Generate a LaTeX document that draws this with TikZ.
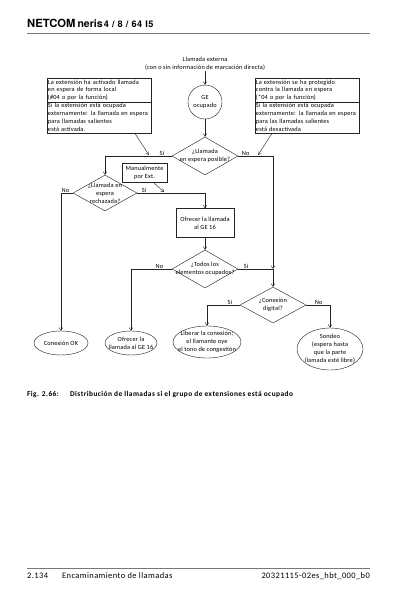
\documentclass[tikz,border=0pt]{standalone}
\usepackage{fontspec}
\setmainfont{Carlito}
\newfontfamily\headfont{TeX Gyre Heros}
\usetikzlibrary{positioning, arrows.meta, shapes.geometric, shapes.multipart}
\definecolor{linecolor}{RGB}{35, 35, 35}
\definecolor{rulecolor}{RGB}{120, 120, 120}
\newcommand{\diagfont}{\fontsize{9}{11.3}\selectfont\addfontfeatures{LetterSpace=2.5}}

\begin{document}
\begin{tikzpicture}[
    x=0.5mm, y=-0.5mm,
    txt/.style={font=\diagfont, align=center, inner sep=1pt},
    decision/.style={diamond, draw=linecolor, line width=0.6pt, inner sep=0pt, minimum width=33mm, minimum height=19mm},
    process/.style={rectangle, draw=linecolor, line width=0.8pt, txt},
    terminal/.style={ellipse, draw=linecolor, line width=0.6pt, inner sep=0pt},
    note/.style={rectangle split, rectangle split parts=2, draw=linecolor, line width=0.8pt,
                 font=\diagfont, text width=51.5mm, align=left,
                 inner xsep=1pt, inner ysep=1.5pt},
    flow/.style={-{Straight Barb[length=1.4mm, width=1.8mm]}, draw=linecolor, line width=0.6pt},
    line/.style={draw=linecolor, line width=0.6pt},
    lbl/.style={txt, inner sep=0.5pt},
    caption/.style={anchor=base west, inner sep=0pt, font=\fontsize{10.5}{12}\selectfont\bfseries\addfontfeatures{LetterSpace=6}},
    footer/.style={inner sep=0pt, font=\fontsize{12}{14}\selectfont\addfontfeatures{LetterSpace=5}},
]
\useasboundingbox (0,0) rectangle (416,593);

% --- Column x-positions ---
\def\colL{105}
\def\colM{205}
\def\colR{273}

% ======= HEADER =======
\node[anchor=base west, inner sep=0pt, font=\headfont\bfseries] (title) at (27,28)
    {{\fontsize{16}{16}\selectfont NETCOM} {\fontsize{15}{15}\selectfont neris}\,{\fontsize{13}{13}\selectfont\addfontfeatures{LetterSpace=6}4 / 8 / 64 I5}};
\draw[rulecolor, line width=0.8pt] (27,33) -- (370,33);

% ======= MAIN FLOW =======
\node[txt] (ext) at (\colM,64) {Llamada externa\\(con o sin información de marcación directa)};
\node[circle, draw=linecolor, line width=0.6pt, minimum size=17mm, txt] (ge) at (\colM,102) {GE\\ocupado};
\node[decision, label={[txt]center:{¿Llamada\\en espera posible?}}] (q-wait) at (\colM,156) {};
\node[decision, minimum width=32mm, minimum height=18mm,
      label={[txt]center:{¿Llamada en\\espera\\rechazada?}}] (q-reject) at (\colL,193) {};
\node[process, minimum width=22.5mm, minimum height=9.5mm] (manual) at (144.5,172.5) {Manualmente\\por Ext.};
\node[process, minimum width=29mm, minimum height=14.5mm] (offer) at (\colM,223) {Ofrecer la llamada\\al GE 16};
\node[decision, label={[txt]center:{¿Todos los\\elementos ocupados?}}] (q-busy) at (\colM,269) {};
\coordinate (join) at (\colR,269);
\node[decision, minimum height=18mm, label={[txt]center:{¿Conexión\\digital?}}] (q-digital) at (\colR,305) {};

% ======= NOTES =======
\node[note, anchor=north west] (note-l) at (47,78)
    {La extensión ha activado llamada\\en espera de forma local\\(\#04 o por la función)
     \nodepart{two}Si la extensión está ocupada\\externamente: la llamada en espera\\para llamadas salientes\\está activada.};
\node[note, anchor=north west] (note-r) at (255,78)
    {La extensión se ha protegido\\contra la llamada en espera\\(*04 o por la función)
     \nodepart{two}Si la extensión está ocupada\\externamente: la llamada en espera\\para las llamadas salientes\\está desactivada};

% ======= END STATES =======
\node[terminal, minimum width=27mm, minimum height=12mm, label={[txt]center:Conexión OK}] (end-ok) at (61,343) {};
\node[terminal, minimum width=26mm, minimum height=12mm,
      label={[txt]center:{Ofrecer la\\llamada al GE 16}}] (end-offer) at (131,343) {};
\node[terminal, minimum width=34mm, minimum height=16mm,
      label={[txt]center:{Liberar la conexión;\\el llamante oye\\el tono de congestión}}] (end-release) at (207,342) {};
\node[terminal, minimum width=33mm, minimum height=21mm,
      label={[txt]center:{Sondeo\\(espera hasta\\que la parte\\llamada esté libre)}}] (end-poll) at (330,349) {};

% ======= CONNECTIONS =======
\draw[flow] (ext) -- (ge);
\draw[flow] (ge) -- (q-wait);
\draw[flow] (q-wait.west) node[lbl, anchor=south east, xshift=-3.5mm] {Sí} -| (q-reject.north);
\draw[flow] (q-wait.east) node[lbl, anchor=south west, xshift=1.5mm] {No} -| (join);
\draw[flow] (q-reject.west) node[lbl, anchor=south east, xshift=-1.5mm] {No} -| (end-ok.north);
\draw[flow] (q-reject.east) node[lbl, anchor=south west, xshift=2mm] {Sí} -| (offer.north);
\draw[flow] (offer) -- (q-busy);
\draw[flow] (q-busy.west) node[lbl, anchor=south east, xshift=-4mm] {No} -| (end-offer.north);
\draw[line] (q-busy.east) node[lbl, anchor=south west, xshift=2.5mm] {Sí} -- (join);
\draw[flow] (join) -- (q-digital.north);
\draw[flow] (q-digital.west) node[lbl, anchor=south east, xshift=-3.5mm] {Sí} -| (end-release.north);
\draw[flow] (q-digital.east) node[lbl, anchor=south west, xshift=4mm] {No} -| (end-poll.north);

% callouts
\coordinate (note-l-tip) at (149,155);
\coordinate (note-r-tip) at (258,155);
\coordinate (manual-tip) at (164,192);
\draw[flow] ([xshift=-8.5mm]note-l.south east) -- (note-l-tip);
\draw[flow] ([xshift=8.5mm]note-r.south west) -- (note-r-tip);
\draw[flow] ([xshift=-7mm]manual.south east) -- (manual-tip);

% ======= CAPTION =======
\node[caption] (fig-num) at (27,396) {Fig. 2.66:};
\node[caption] (fig-cap) at (70,396) {Distribución de llamadas si el grupo de extensiones está ocupado};

% ======= FOOTER =======
\draw[rulecolor, line width=0.8pt] (27,568) -- (370,568);
\node[footer, anchor=base west] (page) at (27,578) {2.134};
\node[footer, anchor=base west] (chapter) at (62,578) {Encaminamiento de llamadas};
\node[footer, anchor=base east] (doc-id) at (370,578) {20321115-02es\_hbt\_000\_b0};

\end{tikzpicture}
\end{document}
